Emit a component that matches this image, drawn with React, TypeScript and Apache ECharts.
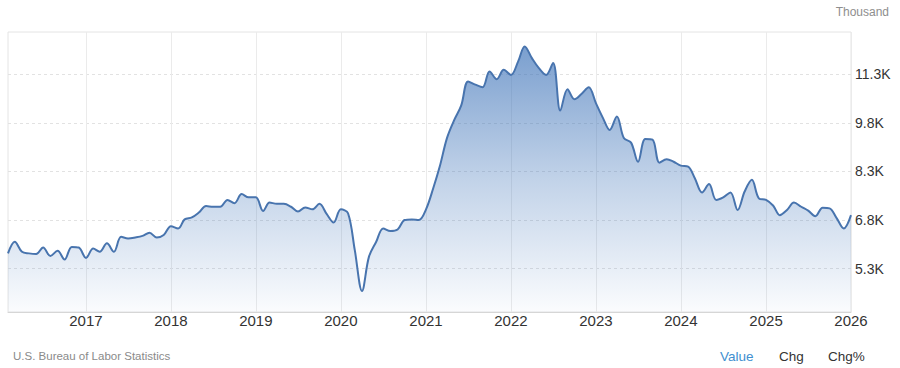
import React, { useEffect, useRef } from "react";
import * as echarts from "echarts";

// Monthly US job openings (thousands), Feb 2016 .. Jan 2026 (month-start dates)
const firstYear = 2016;
const firstMonthIndex = 1; // February (0-based)
const openings: number[] = [
  5.72, 6.08, 5.77, 5.72, 5.70, 5.90, 5.64, 5.80, 5.53, 5.92, 5.90, 5.58,
  5.87, 5.77, 6.03, 5.77, 6.23, 6.18, 6.21, 6.26, 6.36, 6.21, 6.29, 6.56,
  6.49, 6.77, 6.83, 6.98, 7.18, 7.16, 7.16, 7.37, 7.27, 7.55, 7.45, 7.45,
  7.03, 7.29, 7.25, 7.25, 7.16, 7.01, 7.14, 7.08, 7.25, 6.94, 6.67, 7.08,
  6.96, 5.82, 4.56, 5.62, 6.08, 6.49, 6.41, 6.46, 6.75, 6.77, 6.75, 7.08,
  7.73, 8.40, 9.28, 9.82, 10.28, 11.03, 10.93, 10.85, 11.34, 11.10, 11.39, 11.23,
  11.65, 12.11, 11.75, 11.44, 11.23, 11.60, 10.13, 10.79, 10.48, 10.65, 10.85, 10.36,
  9.89, 9.53, 9.95, 9.28, 9.14, 8.55, 9.25, 9.23, 8.52, 8.63, 8.55, 8.43,
  8.40, 8.04, 7.60, 7.86, 7.37, 7.45, 7.60, 7.06, 7.63, 7.99, 7.42, 7.37,
  7.19, 6.90, 7.06, 7.29, 7.16, 7.04, 6.87, 7.13, 7.11, 6.80, 6.49, 6.90,
];
const yTickValues: number[] = [5.25, 6.75, 8.25, 9.75, 11.25];
const yearTicks: number[] = [2017, 2018, 2019, 2020, 2021, 2022, 2023, 2024, 2025, 2026];
const unitLabel = "Thousand";
const sourceLabel = "U.S. Bureau of Labor Statistics";
const toggleLabels: string[] = ["Value", "Chg", "Chg%"];

const FONT = 'Arial, "Liberation Sans", Helvetica, sans-serif';

export default function App() {
  const ref = useRef<HTMLDivElement>(null);
  useEffect(() => {
    if (!ref.current) return;
    const chart = echarts.init(ref.current, null, { renderer: "svg" });
    const data = openings.map((v, i) => [Date.UTC(firstYear, firstMonthIndex + i, 1), v]);
    const yearTs = yearTicks.map((y) => Date.UTC(y, 0, 1));
    const toggleX = [720, 779, 828];
    chart.setOption({
      animation: false,
      grid: {
        left: 8,
        right: 49,
        top: 32,
        height: 280,
        show: true,
        borderColor: "#e4e4e4",
        borderWidth: 1,
      },
      xAxis: {
        type: "value",
        min: data[0][0],
        max: data[data.length - 1][0],
        axisLine: { show: true, lineStyle: { color: "#d6d6d6", width: 1 } },
        axisTick: { show: false, customValues: yearTs },
        axisLabel: {
          customValues: yearTs,
          formatter: (v: number) => String(new Date(v).getUTCFullYear()),
          color: "#333333",
          fontSize: 15,
          fontFamily: FONT,
          margin: 1,
        },
        splitLine: { show: true, lineStyle: { color: "#ebebeb", width: 1 } },
      },
      yAxis: {
        type: "value",
        position: "right",
        min: 3.91,
        max: 12.556,
        axisLine: { show: false },
        axisTick: { show: false, customValues: yTickValues },
        axisLabel: {
          customValues: yTickValues,
          formatter: (v: number) => v.toFixed(1) + "K",
          color: "#333333",
          fontSize: 14,
          fontFamily: FONT,
          margin: 4,
          align: "left",
        },
        splitLine: { show: true, lineStyle: { color: "#e2e2e2", width: 1, type: [3, 3] } },
      },
      series: [
        {
          type: "line",
          data,
          smooth: 0.35,
          symbol: "none",
          lineStyle: { color: "#4874ae", width: 2 },
          areaStyle: {
            color: new echarts.graphic.LinearGradient(0, 0, 0, 1, [
              { offset: 0, color: "rgba(60,114,184,0.97)" },
              { offset: 0.5, color: "rgba(60,114,184,0.45)" },
              { offset: 1, color: "rgba(60,114,184,0.03)" },
            ]),
          },
        },
      ],
      graphic: [
        {
          type: "text",
          x: 889,
          y: 12,
          style: { text: unitLabel, fill: "#8e8e8e", fontSize: 12, fontFamily: FONT, align: "right", verticalAlign: "middle" },
        },
        {
          type: "text",
          x: 13,
          y: 356,
          style: { text: sourceLabel, fill: "#8a8a8a", fontSize: 11.5, fontFamily: FONT, align: "left", verticalAlign: "middle" },
        },
        ...toggleLabels.map((t, i) => ({
          type: "text",
          x: toggleX[i],
          y: 356,
          style: {
            text: t,
            fill: i === 0 ? "#3f8fd0" : "#333333",
            fontSize: 13.5,
            fontFamily: FONT,
            align: "left",
            verticalAlign: "middle",
          },
        })),
      ],
    });
    return () => chart.dispose();
  }, []);
  return (
    <div
      ref={ref}
      style={{ position: "fixed", left: 0, top: 0, width: 900, height: 368, background: "#ffffff" }}
    />
  );
}
